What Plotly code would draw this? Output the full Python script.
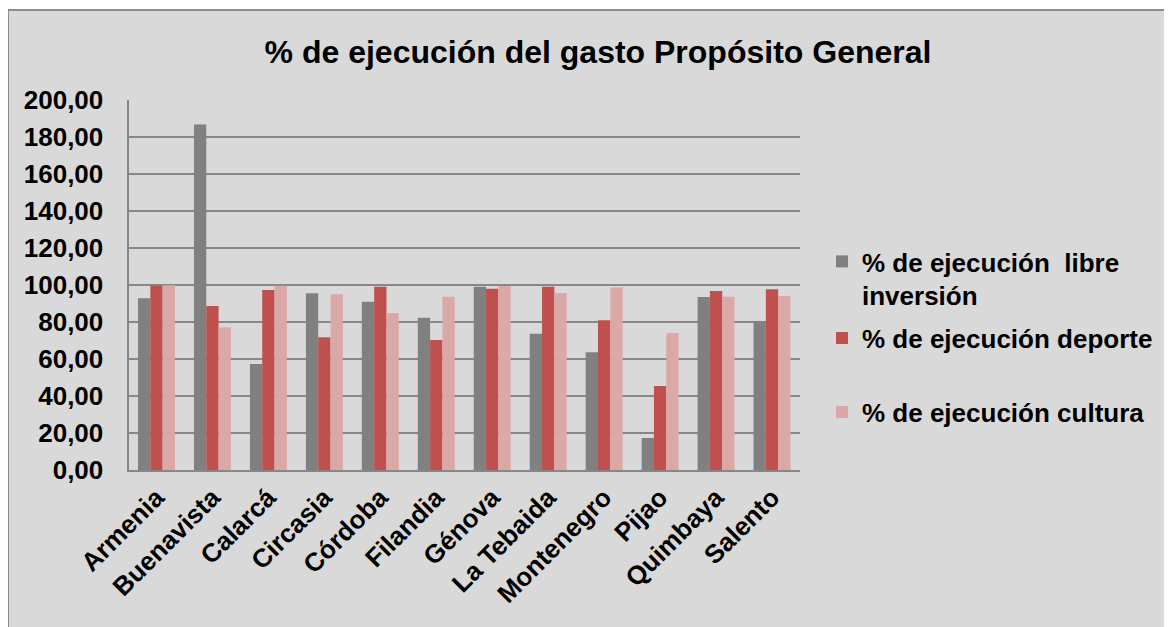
import plotly.graph_objects as go

# ── データ ─────────────────────────────────────────
municipios = ["Armenia", "Buenavista", "Calarcá", "Circasia", "Córdoba", "Filandia",
              "Génova", "La Tebaida", "Montenegro", "Pijao", "Quimbaya", "Salento"]
libre_inversion = [92.8, 186.7, 57.3, 95.5, 91.0, 82.3, 99.1, 73.7, 63.6, 17.3, 93.5, 80.4]
deporte = [99.6, 88.6, 97.3, 71.7, 99.1, 70.3, 98.0, 99.1, 80.9, 45.4, 96.8, 97.7]
cultura = [99.8, 77.1, 99.6, 95.0, 84.9, 93.7, 99.5, 95.7, 98.6, 74.1, 93.7, 94.1]

series = [
    ("% de ejecución  libre<br>inversión", libre_inversion, "#808080"),
    ("% de ejecución deporte", deporte, "#C0504D"),
    ("% de ejecución cultura", cultura, "#DBA8A8"),
]

W, H = 1172, 627
OFF = 8  # ページ本体の余白分だけずらす
FONT = "Liberation Sans, Arial, sans-serif"
GRID = "#878787"


def px_x(v):
    return (v - OFF) / W


def px_y(v):
    return 1 - (v - OFF) / H


legend_ids = ["legend", "legend2", "legend3"]

fig = go.Figure()
for i, (name, vals, color) in enumerate(series):
    fig.add_trace(go.Bar(
        x=municipios, y=vals, name=name,
        marker=dict(color=color, line=dict(width=0)),
        legend=legend_ids[i], showlegend=True,
    ))

# 外枠（灰色の背景）
fig.add_shape(
    type="rect", xref="paper", yref="paper",
    x0=0 / W, x1=1.02, y0=-0.02, y1=1 - 2 / H,
    fillcolor="#D9D9D9", line=dict(color="#8C8C8C", width=2), layer="below",
)

legend_font = dict(size=26, weight="bold", family=FONT, color="#000000")
legend_common = dict(x=px_x(822), xanchor="left", font=legend_font,
                     bgcolor="rgba(0,0,0,0)", valign="top")

fig.update_layout(
    width=W, height=H,
    showlegend=True,
    margin=dict(l=0, r=0, t=0, b=0),
    paper_bgcolor="#FFFFFF",
    plot_bgcolor="rgba(0,0,0,0)",
    separators=",.",
    font=dict(family=FONT, color="#000000"),
    barmode="group", bargap=0.34, bargroupgap=0,
    title=dict(
        text="% de ejecución del gasto Propósito General",
        x=px_x(598), xanchor="center", y=px_y(52), yanchor="middle",
        font=dict(size=32, weight="bold", family=FONT, color="#000000"),
    ),
    xaxis=dict(
        domain=[px_x(128.5), px_x(800)],
        tickangle=-45,
        tickfont=dict(size=26, weight="bold", family=FONT, color="#000000"),
        showline=True, linecolor=GRID, linewidth=2,
        showgrid=False, ticks="", automargin=False,
    ),
    yaxis=dict(
        domain=[px_y(470), px_y(100)],
        range=[0, 200], dtick=20, tickformat=".2f",
        tickfont=dict(size=26, weight="bold", family=FONT, color="#000000"),
        showline=True, linecolor=GRID, linewidth=2,
        showgrid=True, gridcolor=GRID, gridwidth=1.5,
        zeroline=False, ticks="", ticklabelstandoff=18, automargin=False,
    ),
    legend=dict(y=px_y(238), yanchor="top", visible=True, **legend_common),
    legend2=dict(y=px_y(338), yanchor="middle", **legend_common),
    legend3=dict(y=px_y(412), yanchor="middle", **legend_common),
)

fig.write_html("out.html")
